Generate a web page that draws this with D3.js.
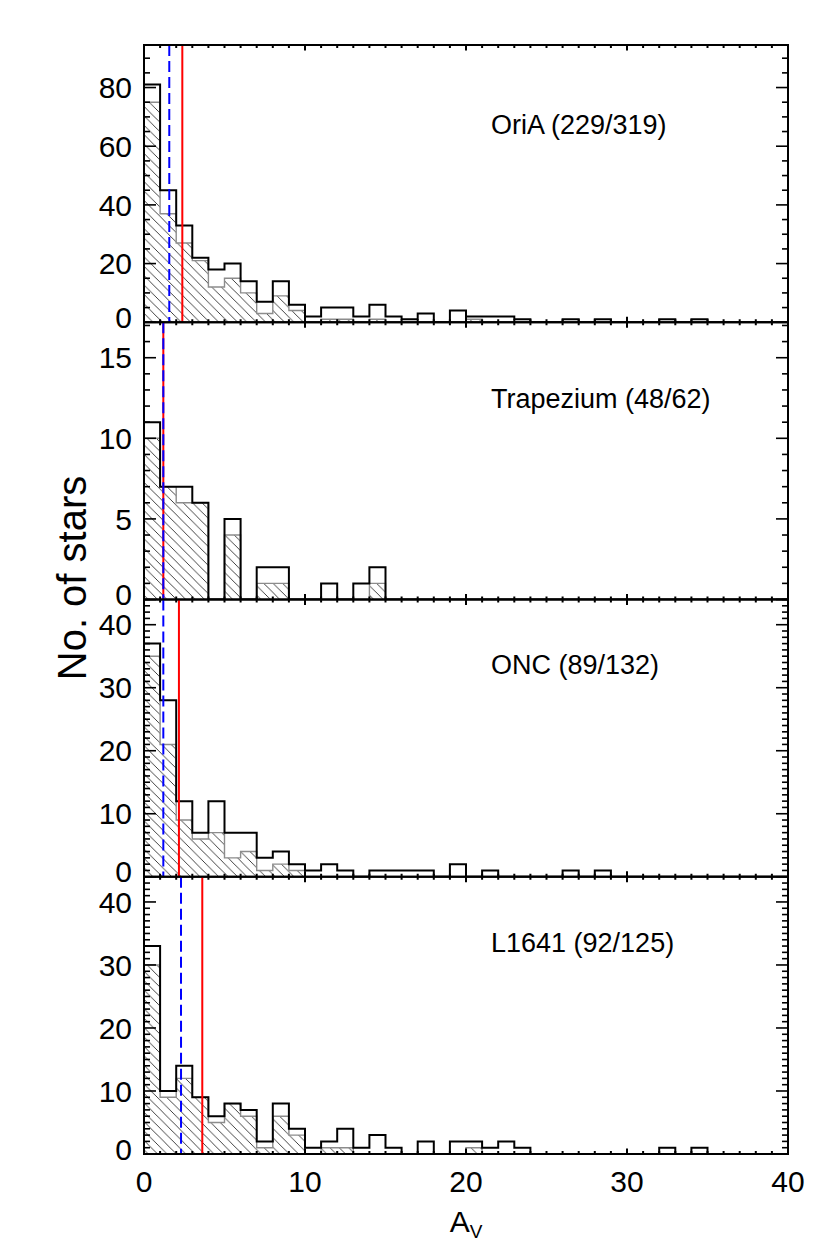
<!DOCTYPE html>
<html><head><meta charset="utf-8">
<script src="https://cdn.jsdelivr.net/npm/d3@7"></script>
<style>
body{margin:0;background:#fff}
svg{display:block}
text{font-family:"Liberation Sans",Arial,Helvetica,sans-serif;fill:#000}
</style>
</head><body>
<svg id="chart" width="830" height="1246"></svg>
<script>
// ---------------- DATA ----------------
const regionLabels = ["OriA (229/319)", "Trapezium (48/62)", "ONC (89/132)", "L1641 (92/125)"];
// A_V bins of width 1 mag, left edges 0..39
const binLeft = [0,1,2,3,4,5,6,7,8,9,10,11,12,13,14,15,16,17,18,19,20,21,22,23,24,25,26,27,28,29,30,31,32,33,34,35,36,37,38,39];
// all stars (black outline)
const allOriA      = [81,45,33,22,18,20,14,7,14,6, 2,5,5,2,6,2,1,3,0,4, 2,2,2,1,0,0,1,0,1,0, 0,0,1,0,1,0,0,0,0,0];
const allTrapezium = [11,7,7,6,0,5,0,2,2,0, 0,1,0,1,2,0,0,0,0,0, 0,0,0,0,0,0,0,0,0,0, 0,0,0,0,0,0,0,0,0,0];
const allONC       = [37,28,12,7,12,7,7,3,4,2, 1,2,1,0,1,1,1,1,0,2, 0,1,0,0,0,0,1,0,1,0, 0,0,0,0,0,0,0,0,0,0];
const allL1641     = [33,10,14,9,6,8,7,2,8,4, 1,2,4,1,3,1,0,2,0,2, 2,1,2,1,0,0,0,0,0,0, 0,0,1,0,1,0,0,0,0,0];
// sub-sample (hatched, grey outline)
const subOriA      = [75,37,27,21,12,15,10,3,9,4, 0,1,1,0,1,0,0,0,0,0, 1,0,0,0,0,0,0,0,0,0, 0,0,0,0,0,0,0,0,0,0];
const subTrapezium = [10,7,6,6,0,4,0,1,1,0, 0,0,0,0,1,0,0,0,0,0, 0,0,0,0,0,0,0,0,0,0, 0,0,0,0,0,0,0,0,0,0];
const subONC       = [35,21,9,6,7,3,4,1,2,1, 0,0,0,0,0,0,0,0,0,0, 0,0,0,0,0,0,0,0,0,0, 0,0,0,0,0,0,0,0,0,0];
const subL1641     = [30,9,12,9,5,8,6,1,6,3, 0,1,1,0,0,0,0,0,0,0, 1,0,0,0,0,0,0,0,0,0, 0,0,0,0,0,0,0,0,0,0];
// vertical markers (A_V)
const blueDashedAv = [1.57, 1.2, 1.2, 2.3];
const redSolidAv   = [2.38, 1.2, 2.17, 3.62];
// axes
const yMax = [94.5, 17.2, 44, 44];
const yMajorTicks = [[0,20,40,60,80],[0,5,10,15],[0,10,20,30,40],[0,10,20,30,40]];
const yMinorStep = [5, 1, 1, 1];
const xMajorTicks = [0,10,20,30,40];
const xDomain = [0, 40];

// ---------------- LAYOUT ----------------
const allSeries = [allOriA, allTrapezium, allONC, allL1641];
const subSeries = [subOriA, subTrapezium, subONC, subL1641];
const L = 144, R = 788, T = 45, B = 1154;
const PH = (B - T) / 4;
const labelBaseFrac = [0.678, 0.69, 0.733, 0.73];

const svg = d3.select("#chart");
const x = d3.scaleLinear().domain(xDomain).range([L, R]);

// hatch pattern
const s = 9.4;
const defs = svg.append("defs");
defs.append("pattern").attr("id","hatch").attr("patternUnits","userSpaceOnUse")
  .attr("width", s).attr("height", s)
  .append("path")
  .attr("d", `M0,0L${s},${s}M${-2},${s-2}L2,${s+2}M${s-2},-2L${s+2},2`)
  .attr("stroke", "#222").attr("stroke-width", 0.85).attr("fill","none");

for (let p = 0; p < 4; p++) {
  const top = T + p * PH, bot = top + PH;
  const y = d3.scaleLinear().domain([0, yMax[p]]).range([bot, top]);
  const g = svg.append("g");
  const cid = "clip" + p;
  defs.append("clipPath").attr("id", cid).append("rect")
    .attr("x", L).attr("y", top).attr("width", R - L).attr("height", PH);
  const plot = g.append("g").attr("clip-path", `url(#${cid})`);

  const all = allSeries[p], sub = subSeries[p];
  const ptsSub = binLeft.map((b, i) => ({x: b, v: sub[i]}));
  ptsSub.push({x: xDomain[1], v: sub[sub.length - 1]});
  const ptsAll = binLeft.map((b, i) => ({x: b, v: all[i]}));
  ptsAll.push({x: xDomain[1], v: all[all.length - 1]});

  const area = d3.area().curve(d3.curveStepAfter)
    .x(d => x(d.x)).y0(y(0)).y1(d => y(d.v));
  plot.append("path").datum(ptsSub).attr("d", area).attr("fill", "url(#hatch)");

  const line = d3.line().curve(d3.curveStepAfter).x(d => x(d.x)).y(d => y(d.v));
  const withEnds = pts => [{x: xDomain[0], v: 0}, ...pts, {x: xDomain[1], v: 0}];
  plot.append("path").datum(withEnds(ptsSub)).attr("d", line)
    .attr("fill","none").attr("stroke","#8c8c8c").attr("stroke-width",1.4);
  plot.append("path").datum(withEnds(ptsAll)).attr("d", line)
    .attr("fill","none").attr("stroke","#000").attr("stroke-width",2);

  // vertical markers
  plot.append("line").attr("x1", x(redSolidAv[p])).attr("x2", x(redSolidAv[p]))
    .attr("y1", top).attr("y2", bot).attr("stroke", "#ff0000").attr("stroke-width", 2);
  plot.append("line").attr("x1", x(blueDashedAv[p])).attr("x2", x(blueDashedAv[p]))
    .attr("y1", top).attr("y2", bot).attr("stroke", "#0000ff").attr("stroke-width", 2)
    .attr("stroke-dasharray", "11,5");

  // frame
  g.append("rect").attr("x", L).attr("y", top).attr("width", R - L).attr("height", PH)
    .attr("fill","none").attr("stroke","#000").attr("stroke-width",2);

  // x ticks (top & bottom, inward)
  const xMinor = d3.range(xDomain[0], xDomain[1] + 0.001, 1);
  xMinor.forEach(v => {
    const major = xMajorTicks.includes(v);
    const len = major ? 5.5 : 3;
    g.append("line").attr("x1", x(v)).attr("x2", x(v)).attr("y1", bot).attr("y2", bot - len)
      .attr("stroke","#000").attr("stroke-width", 2);
    g.append("line").attr("x1", x(v)).attr("x2", x(v)).attr("y1", top).attr("y2", top + len)
      .attr("stroke","#000").attr("stroke-width", 2);
  });

  // y ticks (left & right, inward)
  const yMinor = d3.range(0, yMax[p] + 0.001, yMinorStep[p]);
  yMinor.forEach(v => {
    const major = yMajorTicks[p].includes(v);
    const len = major ? 12 : 6;
    g.append("line").attr("x1", L).attr("x2", L + len).attr("y1", y(v)).attr("y2", y(v))
      .attr("stroke","#000").attr("stroke-width", 1.6);
    g.append("line").attr("x1", R).attr("x2", R - len).attr("y1", y(v)).attr("y2", y(v))
      .attr("stroke","#000").attr("stroke-width", 1.6);
  });
  yMajorTicks[p].forEach(v => {
    g.append("text").attr("x", L - 12).attr("y", y(v) + 10.7 - (v === 0 ? 5 : 0))
      .attr("text-anchor","end").attr("font-size", 30).text(v);
  });

  // region label
  g.append("text").attr("x", 491).attr("y", bot - labelBaseFrac[p] * PH)
    .attr("font-size", 27).text(regionLabels[p]);
}

// x tick labels
xMajorTicks.forEach(v => {
  svg.append("text").attr("x", x(v)).attr("y", 1192).attr("text-anchor","middle")
    .attr("font-size", 30).text(v);
});
// x axis title A_V
const xt = svg.append("text").attr("x", x(20)).attr("y", 1232).attr("text-anchor","middle").attr("font-size", 30);
xt.append("tspan").text("A");
xt.append("tspan").attr("font-size", 19).attr("dy", 6).text("V");
// y axis title
svg.append("text").attr("transform", "translate(86,578) rotate(-90)")
  .attr("text-anchor","middle").attr("font-size", 40).text("No. of stars");
</script>
</body></html>
